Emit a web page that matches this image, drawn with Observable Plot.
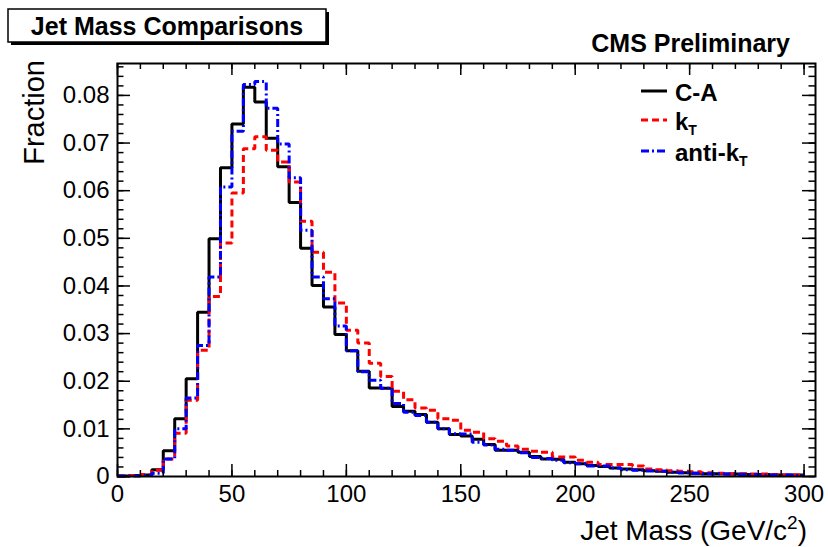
<!DOCTYPE html>
<html><head><meta charset="utf-8">
<script src="https://cdn.jsdelivr.net/npm/d3@7"></script>
<script src="https://cdn.jsdelivr.net/npm/@observablehq/plot@0.6"></script>
<style>body{margin:0;background:#fff} #chart{width:828px;height:547px}</style>
</head><body><div id="chart"></div>
<script>
// Bin edges (GeV/c^2), 60 bins of width 5
const binEdges = [0,5,10,15,20,25,30,35,40,45,50,55,60,65,70,75,80,85,90,95,100,105,110,115,120,125,130,135,140,145,150,155,160,165,170,175,180,185,190,195,200,205,210,215,220,225,230,235,240,245,250,255,260,265,270,275,280,285,290,295,300];
// Fraction per bin, C-A algorithm
const caValues = [0.0001,0.0002,0.0003,0.0014,0.0054,0.0121,0.0205,0.0345,0.0499,0.0648,
  0.0740,0.0817,0.0786,0.0710,0.0650,0.0575,0.0479,0.0401,0.0356,0.0298,
  0.0264,0.0221,0.0186,0.0185,0.0147,0.0137,0.0130,0.0114,0.0100,0.0088,
  0.0085,0.0078,0.0067,0.0055,0.0055,0.0051,0.0042,0.0037,0.0036,0.0030,
  0.0027,0.0023,0.0021,0.0018,0.0016,0.0014,0.0012,0.0011,0.0009,0.0008,
  0.0007,0.0006,0.0006,0.0005,0.0005,0.0004,0.0004,0.0003,0.0003,0.0003];
// Fraction per bin, kT algorithm
const ktValues = [0.0001,0.0002,0.0004,0.0013,0.0037,0.0091,0.0160,0.0265,0.0378,0.0490,
  0.0595,0.0688,0.0713,0.0685,0.0660,0.0618,0.0536,0.0471,0.0429,0.0364,
  0.0307,0.0280,0.0238,0.0210,0.0179,0.0161,0.0144,0.0139,0.0121,0.0118,
  0.0097,0.0093,0.0079,0.0074,0.0064,0.0057,0.0053,0.0051,0.0041,0.0041,
  0.0034,0.0030,0.0025,0.0025,0.0025,0.0022,0.0016,0.0014,0.0012,0.0011,
  0.0010,0.0008,0.0007,0.0006,0.0006,0.0005,0.0005,0.0004,0.0003,0.0003];
// Fraction per bin, anti-kT algorithm
const antiKtValues = [0.0001,0.0001,0.0002,0.0007,0.0037,0.0100,0.0165,0.0275,0.0419,0.0608,
  0.0725,0.0823,0.0829,0.0773,0.0698,0.0627,0.0517,0.0419,0.0373,0.0316,
  0.0264,0.0220,0.0202,0.0185,0.0153,0.0135,0.0128,0.0114,0.0100,0.0090,
  0.0089,0.0072,0.0066,0.0057,0.0055,0.0050,0.0040,0.0038,0.0034,0.0029,
  0.0027,0.0022,0.0022,0.0018,0.0014,0.0013,0.0012,0.0011,0.0009,0.0008,
  0.0007,0.0006,0.0006,0.0005,0.0004,0.0004,0.0003,0.0003,0.0003,0.0002];

const xTickLabels = [0,50,100,150,200,250,300];
const xMinorTicks = [0,10,20,30,40,50,60,70,80,90,100,110,120,130,140,150,160,170,180,190,200,210,220,230,240,250,260,270,280,290,300];
const yTickLabels = [0,0.01,0.02,0.03,0.04,0.05,0.06,0.07,0.08];
const yMinorTicks = [0,0.002,0.004,0.006,0.008,0.01,0.012,0.014,0.016,0.018,0.02,0.022,0.024,0.026,0.028,0.03,0.032,0.034,0.036,0.038,0.04,0.042,0.044,0.046,0.048,0.05,0.052,0.054,0.056,0.058,0.06,0.062,0.064,0.066,0.068,0.07,0.072,0.074,0.076,0.078,0.08,0.082,0.084,0.086];
const seriesNames = ["C-A", "k", "anti-k"];
const seriesSub = ["", "T", "T"];
const seriesColors = ["#000000", "#ff0000", "#0000ff"];
const seriesDash = [null, "7,4", "8,3,2,3"];

function steps(values) {
  return values.map((v, i) => ({x: binEdges[i], y: v})).concat([{x: binEdges[values.length], y: values[values.length - 1]}]);
}

const W = 828, H = 547, mL = 117, mR = 13, mT = 63, mB = 71;
const plotH = H - mT - mB, plotW = W - mL - mR;
const series = [caValues, ktValues, antiKtValues];

const chart = Plot.plot({
  width: W, height: H,
  marginLeft: mL, marginRight: mR, marginTop: mT, marginBottom: mB,
  style: {fontFamily: "'Liberation Sans', Arial, Helvetica, sans-serif", fontSize: "24px", background: "white", color: "black", overflow: "visible"},
  x: {domain: [0, 305]},
  y: {domain: [0, 0.0867]},
  marks: [
    ...series.map((vals, i) => Plot.line(steps(vals), {
      x: "x", y: "y", curve: "step-after",
      stroke: seriesColors[i], strokeWidth: 3,
      strokeDasharray: seriesDash[i] || undefined, strokeLinejoin: "miter", strokeLinecap: "butt"
    })),
    Plot.tickX(xMinorTicks, {x: d => d, insetTop: plotH - 6, strokeWidth: 1.5}),
    Plot.tickX(xTickLabels, {x: d => d, insetTop: plotH - 12, strokeWidth: 1.5}),
    Plot.tickX(xMinorTicks, {x: d => d, insetBottom: plotH - 6, strokeWidth: 1.5}),
    Plot.tickX(xTickLabels, {x: d => d, insetBottom: plotH - 12, strokeWidth: 1.5}),
    Plot.tickY(yMinorTicks, {y: d => d, insetRight: plotW - 6.5, strokeWidth: 1.5}),
    Plot.tickY(yTickLabels, {y: d => d, insetRight: plotW - 13, strokeWidth: 1.5}),
    Plot.tickY(yMinorTicks, {y: d => d, insetLeft: plotW - 6.5, strokeWidth: 1.5}),
    Plot.tickY(yTickLabels, {y: d => d, insetLeft: plotW - 13, strokeWidth: 1.5}),
    Plot.axisX({ticks: xTickLabels, anchor: "bottom", tickSize: 0, tickPadding: 8, label: null, tickFormat: d => String(d)}),
    Plot.axisY({ticks: yTickLabels, anchor: "left", tickSize: 0, tickPadding: 8, label: null, tickFormat: d => d === 0 ? "0" : d.toFixed(2)}),
    Plot.frame({stroke: "black", strokeWidth: 2})
  ]
});
document.getElementById("chart").appendChild(chart);

const svg = d3.select(chart);
// Title box with shadow
svg.append("rect").attr("x", 11).attr("y", 12).attr("width", 318).attr("height", 33).attr("fill", "#000");
svg.append("rect").attr("x", 8).attr("y", 9).attr("width", 318).attr("height", 33).attr("fill", "#fff").attr("stroke", "#000").attr("stroke-width", 1.5);
svg.append("text").attr("x", 167).attr("y", 35).attr("text-anchor", "middle").attr("font-weight", "bold").attr("font-size", 25).attr("fill", "#000").text("Jet Mass Comparisons");
svg.append("text").attr("x", 790).attr("y", 52).attr("text-anchor", "end").attr("font-weight", "bold").attr("font-size", 25).attr("fill", "#000").text("CMS Preliminary");

// Legend
const legendY = [91, 120, 151];
seriesNames.forEach((name, i) => {
  svg.append("line").attr("x1", 641).attr("x2", 667).attr("y1", legendY[i]).attr("y2", legendY[i])
    .attr("stroke", seriesColors[i]).attr("stroke-width", 3).attr("stroke-dasharray", seriesDash[i]);
  const t = svg.append("text").attr("x", 675).attr("y", legendY[i] + 10).attr("text-anchor", "start").attr("font-weight", "bold").attr("font-size", 24).attr("fill", "#000");
  t.append("tspan").text(name);
  if (seriesSub[i]) t.append("tspan").attr("dy", 5).attr("font-size", 14).text(seriesSub[i]);
});

// Axis titles
const xt = svg.append("text").attr("x", 807).attr("y", 540).attr("text-anchor", "end").attr("font-size", 28).attr("fill", "#000");
xt.append("tspan").text("Jet Mass (GeV/c");
xt.append("tspan").attr("dy", -11).attr("font-size", 19).text("2");
xt.append("tspan").attr("dy", 11).text(")");
svg.append("text").attr("transform", "translate(44,60) rotate(-90)").attr("text-anchor", "end").attr("font-size", 29).attr("fill", "#000").text("Fraction");
</script></body></html>
